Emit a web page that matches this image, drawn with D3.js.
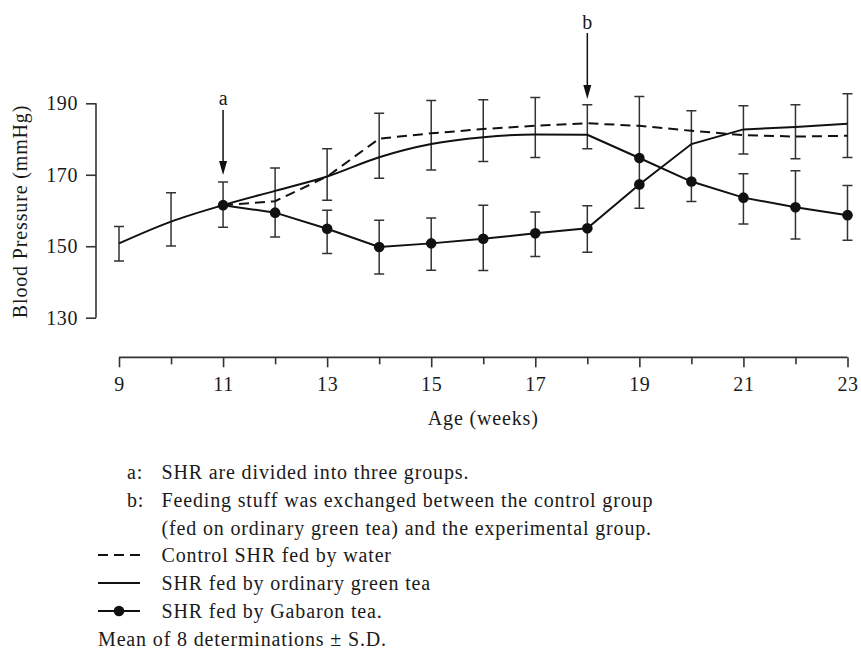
<!DOCTYPE html>
<html>
<head>
<meta charset="utf-8">
<script src="https://cdn.jsdelivr.net/npm/d3@7"></script>
<style>
  html, body { margin: 0; padding: 0; background: #fff; }
  svg { display: block; }
  text { font-family: "Liberation Serif", "Times New Roman", serif; fill: #1a1a1a; }
</style>
</head>
<body>
<svg id="chart" width="861" height="650"></svg>
<script>
// ---------------- data ----------------
const weeks = [9, 10, 11, 12, 13, 14, 15, 16, 17, 18, 19, 20, 21, 22, 23];

// Control SHR fed by water (dashed), from group division at week 11
const controlWater = [null, null, 161.5, 162.6, 169.5, 180.1, 181.6, 182.8, 183.7, 184.4, 183.7, 182.3, 181.1, 180.7, 180.9];
// Group fed ordinary green tea until week 18 (then switched)
const greenTeaGroup = [150.8, 156.9, 161.5, 165.5, 169.5, 174.9, 178.6, 180.5, 181.3, 181.2, 174.7, 168.1, 163.6, 160.9, 158.7];
// Group fed Gabaron tea until week 18 (then switched)
const gabaronGroup = [null, null, 161.5, 159.4, 154.9, 149.8, 150.8, 152.1, 153.6, 155.0, 167.3, 178.6, 182.7, 183.4, 184.3];

// weeks at which each group was on Gabaron tea (filled dots)
const gabaronGroupDotWeeks = [11, 12, 13, 14, 15, 16, 17, 18, 19];
const greenTeaGroupDotWeeks = [19, 20, 21, 22, 23];

// error bars (mean ± S.D.) as drawn
const errWeeks = [9, 10, 11, 12, 13, 13, 14, 14, 15, 15, 16, 16, 17, 17, 18, 18, 19, 20, 21, 21, 22, 22, 23, 23];
const errLow   = [145.9, 150.1, 155.3, 152.6, 162.9, 148.0, 169.0, 142.2, 171.3, 143.3, 173.7, 143.2, 174.8, 147.1, 177.3, 148.3, 160.6, 162.5, 175.8, 156.2, 174.5, 152.0, 174.8, 151.7];
const errHigh  = [155.5, 165.0, 168.0, 171.9, 177.3, 160.1, 187.2, 157.3, 190.8, 157.9, 191.0, 161.5, 191.6, 159.6, 189.6, 161.3, 191.9, 187.9, 189.3, 170.3, 189.6, 171.1, 192.7, 167.0];

// axes
const yTicks = [130, 150, 170, 190];
const xMajorTicks = [9, 11, 13, 15, 17, 19, 21, 23];
const xMinorTicks = [10, 12, 14, 16, 18, 20, 22];

// annotations
const arrowLabels = ["a", "b"];
const arrowWeeks = [11, 18];

const noteLabels = ["a:", "b:", ""];
const noteTexts = [
  "SHR are divided into three groups.",
  "Feeding stuff was exchanged between the control group",
  "(fed on ordinary green tea) and the experimental group."
];
const legendNames = ["Control SHR fed by water", "SHR fed by ordinary green tea", "SHR fed by Gabaron tea."];
const footnote = "Mean of 8 determinations \u00B1 S.D.";
const xTitle = "Age (weeks)";
const yTitle = "Blood Pressure (mmHg)";

// ---------------- drawing ----------------
const svg = d3.select("#chart");
const ink = "#111";
const axisInk = "#333";

const x = d3.scaleLinear().domain([9, 23]).range([119, 847.5]);
const y = d3.scaleLinear().domain([130, 190]).range([317.7, 103.3]);

const fontSize = 20;
const ls = "0.85px";

// Y axis
const yAxis = svg.append("g").attr("transform", `translate(${x(9) - 23},0)`)
  .call(d3.axisLeft(y).tickValues(yTicks).tickSize(10).tickPadding(8).tickFormat(d3.format("d")));
yAxis.select(".domain").attr("d", `M0,${y(190)}V${y(130)}`).attr("stroke", axisInk).attr("stroke-width", 1.6);
yAxis.selectAll(".tick line").attr("stroke", axisInk).attr("stroke-width", 1.6);
yAxis.selectAll(".tick text").attr("font-size", fontSize).attr("letter-spacing", "0.6px")
  .attr("font-family", "Liberation Serif").attr("fill", "#1a1a1a");

// X axis
const axisY = 357.3;
const xAxis = svg.append("g").attr("transform", `translate(0,${axisY})`)
  .call(d3.axisBottom(x).tickValues(xMajorTicks).tickSize(10).tickPadding(10).tickFormat(d3.format("d")));
xAxis.select(".domain").attr("d", `M${x(9)},0H${x(23)}`).attr("stroke", axisInk).attr("stroke-width", 1.8);
xAxis.selectAll(".tick line").attr("stroke", axisInk).attr("stroke-width", 1.6);
xAxis.selectAll(".tick text").attr("font-size", fontSize).attr("letter-spacing", "0.6px")
  .attr("font-family", "Liberation Serif").attr("fill", "#1a1a1a");
const xMinor = svg.append("g").attr("transform", `translate(0,${axisY})`)
  .call(d3.axisBottom(x).tickValues(xMinorTicks).tickSize(7).tickFormat(""));
xMinor.select(".domain").remove();
xMinor.selectAll(".tick line").attr("stroke", axisInk).attr("stroke-width", 1.6);

// axis titles
svg.append("text").attr("x", x(16)).attr("y", 418).attr("dy", "0.35em")
  .attr("text-anchor", "middle").attr("font-size", fontSize).attr("letter-spacing", ls).text(xTitle);
svg.append("text").attr("transform", `translate(20,${(y(190) + y(130)) / 2 + 1}) rotate(-90)`)
  .attr("dy", "0.35em").attr("text-anchor", "middle").attr("font-size", fontSize).attr("letter-spacing", ls).text(yTitle);

// error bars
const capW = 5;
const eb = svg.append("g").attr("stroke", axisInk).attr("stroke-width", 1.5).attr("fill", "none");
errWeeks.forEach((w, i) => {
  const cx = x(w), y1 = y(errHigh[i]), y2 = y(errLow[i]);
  eb.append("path").attr("d", `M${cx},${y1}V${y2}M${cx - capW},${y1}H${cx + capW}M${cx - capW},${y2}H${cx + capW}`);
});

// lines
function series(vals) {
  return weeks.map((w, i) => ({ w, v: vals[i] })).filter(d => d.v != null);
}
const lineLinear = d3.line().x(d => x(d.w)).y(d => y(d.v));
const lineSmooth = d3.line().x(d => x(d.w)).y(d => y(d.v)).curve(d3.curveMonotoneX);

const gtSeries = series(greenTeaGroup);
svg.append("path").attr("d", lineSmooth(gtSeries.filter(d => d.w <= 18)))
  .attr("fill", "none").attr("stroke", ink).attr("stroke-width", 2);
svg.append("path").attr("d", lineLinear(gtSeries.filter(d => d.w >= 18)))
  .attr("fill", "none").attr("stroke", ink).attr("stroke-width", 2);

svg.append("path").attr("d", lineLinear(series(gabaronGroup)))
  .attr("fill", "none").attr("stroke", ink).attr("stroke-width", 2);

svg.append("path").attr("d", lineLinear(series(controlWater)))
  .attr("fill", "none").attr("stroke", ink).attr("stroke-width", 2).attr("stroke-dasharray", "10,6");

// dots
const dotR = 5.3;
const gabSeries = series(gabaronGroup);
svg.append("g").selectAll("circle")
  .data(gabSeries.filter(d => gabaronGroupDotWeeks.includes(d.w)))
  .join("circle").attr("cx", d => x(d.w)).attr("cy", d => y(d.v)).attr("r", dotR).attr("fill", ink);
svg.append("g").selectAll("circle")
  .data(gtSeries.filter(d => greenTeaGroupDotWeeks.includes(d.w)))
  .join("circle").attr("cx", d => x(d.w)).attr("cy", d => y(d.v)).attr("r", dotR).attr("fill", ink);

// arrows a, b
const arrowGeom = [{ textY: 98, top: 110, tip: 175 }, { textY: 22, top: 33, tip: 99 }];
arrowLabels.forEach((lab, i) => {
  const ax = x(arrowWeeks[i]);
  const g = arrowGeom[i];
  svg.append("text").attr("x", ax).attr("y", g.textY).attr("dy", "0.35em")
    .attr("text-anchor", "middle").attr("font-size", fontSize).text(lab);
  svg.append("line").attr("x1", ax).attr("x2", ax).attr("y1", g.top).attr("y2", g.tip - 10)
    .attr("stroke", ink).attr("stroke-width", 1.5);
  svg.append("path").attr("d", `M${ax - 4},${g.tip - 14}L${ax + 4},${g.tip - 14}L${ax},${g.tip}Z`).attr("fill", ink);
});

// notes & legend
const rowY = [472, 500, 527.5, 555, 583, 611, 639];
noteTexts.forEach((t, i) => {
  if (noteLabels[i]) svg.append("text").attr("x", 127).attr("y", rowY[i]).attr("dy", "0.35em")
    .attr("font-size", fontSize).attr("letter-spacing", ls).text(noteLabels[i]);
  svg.append("text").attr("x", 161.5).attr("y", rowY[i]).attr("dy", "0.35em")
    .attr("font-size", fontSize).attr("letter-spacing", ls).text(t);
});
legendNames.forEach((t, i) => {
  const ly = rowY[3 + i];
  const sym = svg.append("line").attr("x1", 98).attr("x2", 140).attr("y1", ly).attr("y2", ly)
    .attr("stroke", ink).attr("stroke-width", 2);
  if (i === 0) sym.attr("stroke-dasharray", "10,6");
  if (i === 2) svg.append("circle").attr("cx", 119).attr("cy", ly).attr("r", dotR).attr("fill", ink);
  svg.append("text").attr("x", 161.5).attr("y", ly).attr("dy", "0.35em")
    .attr("font-size", fontSize).attr("letter-spacing", ls).text(t);
});
svg.append("text").attr("x", 98).attr("y", rowY[6]).attr("dy", "0.35em")
  .attr("font-size", fontSize).attr("letter-spacing", ls).text(footnote);
</script>
</body>
</html>
